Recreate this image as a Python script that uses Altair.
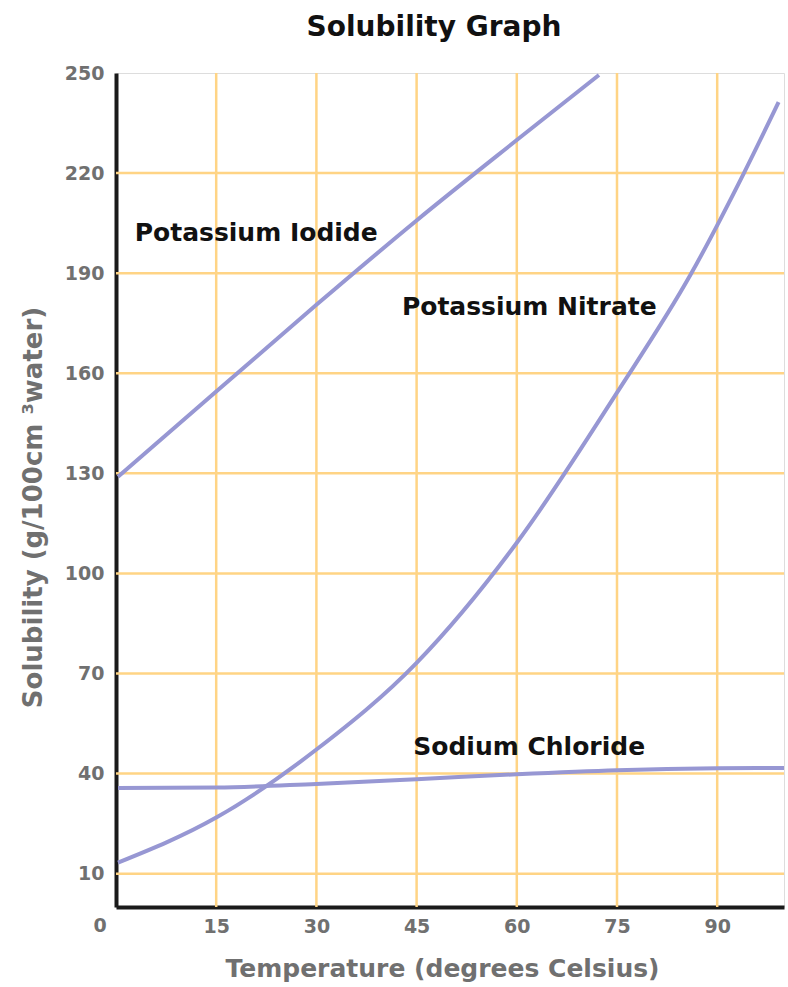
import altair as alt
import pandas as pd

# ---- data ----
ki_temp = [0.3, 15, 30, 45, 60, 72.3]
ki_sol = [129.0, 154.5, 180.5, 205.8, 229.9, 249.4]

kno3_temp = [0.3, 15, 30, 45, 60, 75, 86, 94, 99.2]
kno3_sol = [13.3, 26.8, 47.2, 73.2, 109.2, 154.2, 189.5, 220.0, 241.3]

nacl_temp = [0.3, 15, 30, 45, 60, 75, 90, 100]
nacl_sol = [35.7, 35.8, 36.9, 38.3, 39.8, 41.0, 41.6, 41.7]

x_ticks = [15, 30, 45, 60, 75, 90]
y_ticks = [10, 40, 70, 100, 130, 160, 190, 220, 250]
y_grid = [10, 40, 70, 100, 130, 160, 190, 220]
origin_label = "0"

label_names = ["Potassium Iodide", "Potassium Nitrate", "Sodium Chloride"]
label_temp = [2.8, 42.8, 44.5]
label_sol = [202.1, 179.9, 48.1]

# ---- tables ----
rows = []
for name, xs, ys in [("Potassium Iodide", ki_temp, ki_sol),
                     ("Potassium Nitrate", kno3_temp, kno3_sol),
                     ("Sodium Chloride", nacl_temp, nacl_sol)]:
    for i, (a, b) in enumerate(zip(xs, ys)):
        rows.append({"substance": name, "temp": a, "sol": b, "order": i})
curves = pd.DataFrame(rows)
labels = pd.DataFrame({"label": label_names, "temp": label_temp, "sol": label_sol})
vgrid = pd.DataFrame({"temp": x_ticks})
hgrid = pd.DataFrame({"sol": y_grid})
origin = pd.DataFrame({"temp": [0], "sol": [0], "label": [origin_label]})

W, H = 668, 834
FONT = "DejaVu Sans"
GRAY = "#707070"
GRID = "#FFD485"
LINE = "#9797D3"

xscale = alt.Scale(domain=[0, 100], nice=False, zero=False)
yscale = alt.Scale(domain=[0, 250], nice=False, zero=False)

xaxis = alt.Axis(values=x_ticks, grid=False, ticks=False, domainColor="#1a1a1a",
                 domainWidth=4, labelFont=FONT, labelFontSize=19, labelFontWeight="bold",
                 labelColor=GRAY, labelPadding=10,
                 title="Temperature (degrees Celsius)", titleFont=FONT, titleFontSize=25,
                 titleFontWeight="bold", titleColor=GRAY, titlePadding=20, titleX=326)
yaxis = alt.Axis(values=y_ticks, grid=False, ticks=False, domainColor="#1a1a1a",
                 domainWidth=4, labelFont=FONT, labelFontSize=19, labelFontWeight="bold",
                 labelColor=GRAY, labelPadding=12,
                 title="Solubility (g/100cm  ³water)", titleFont=FONT, titleFontSize=26,
                 titleFontWeight="bold", titleColor=GRAY, titlePadding=18, titleY=434)

vg = alt.Chart(vgrid).mark_rule(color=GRID, strokeWidth=2.5).encode(
    x=alt.X("temp:Q", scale=xscale, axis=xaxis))
hg = alt.Chart(hgrid).mark_rule(color=GRID, strokeWidth=2.5).encode(
    y=alt.Y("sol:Q", scale=yscale, axis=yaxis))

lines = alt.Chart(curves).mark_line(color=LINE, strokeWidth=4, interpolate="monotone").encode(
    x=alt.X("temp:Q", scale=xscale),
    y=alt.Y("sol:Q", scale=yscale),
    detail="substance:N",
    order="order:Q",
)

texts = alt.Chart(labels).mark_text(font=FONT, fontSize=25, fontWeight="bold", color="#111111",
                                   align="left", baseline="middle").encode(
    x=alt.X("temp:Q", scale=xscale),
    y=alt.Y("sol:Q", scale=yscale),
    text="label:N",
)

zero = alt.Chart(origin).mark_text(font=FONT, fontSize=19, fontWeight="bold", color=GRAY,
                                  align="center", baseline="middle", dx=-16, dy=19).encode(
    x=alt.X("temp:Q", scale=xscale),
    y=alt.Y("sol:Q", scale=yscale),
    text="label:N",
)

chart = alt.layer(vg, hg, lines, texts, zero).properties(
    width=W, height=H,
    title=alt.TitleParams("Solubility Graph", font=FONT, fontSize=28, fontWeight="bold",
                          color="#111111", anchor="middle", dx=-16, offset=22),
    autosize=alt.AutoSizeParams(type="none"),
    padding={"left": 116, "top": 73, "right": 4, "bottom": 80},
).configure_view(stroke=None).configure(background="white")

chart.save("out.html", embed_options={"renderer": "svg", "actions": False})
